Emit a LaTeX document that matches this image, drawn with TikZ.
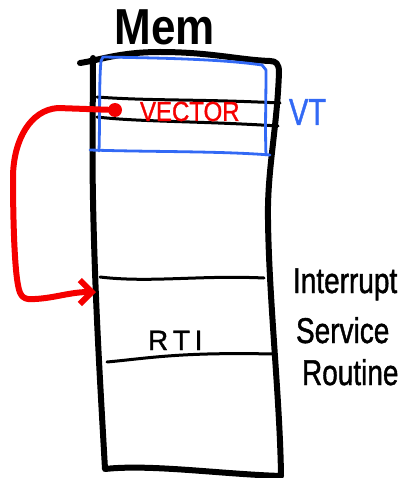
\documentclass[tikz,border=0pt]{standalone}
\usepackage{fontspec}
\setmainfont{Liberation Sans}
\newfontfamily\handfont[FakeBold=1.3]{Liberation Sans}
\usepackage{graphicx}
\usetikzlibrary{arrows.meta}
\definecolor{inkred}{RGB}{245,0,0}
\definecolor{inkblue}{RGB}{50,105,245}
\tikzset{
  memwall/.style={line width=6pt, line cap=round, line join=round},
  slotline/.style={line width=3pt, line cap=round},
  vtframe/.style={draw=inkblue, line width=2.8pt, line cap=round, line join=round},
  redlink/.style={draw=inkred, line width=6pt, line cap=round, line join=round},
  hand/.style={inner sep=0pt, outer sep=0pt},
}
\newcommand{\talltext}[1]{\scalebox{1}[1.28]{#1}}
\begin{document}
\begin{tikzpicture}[x=1pt,y=-1pt]
\useasboundingbox (0,0) rectangle (401,478);

% memory column
\draw[memwall] (93,58) .. controls (93,90) and (92,150) .. (93,200)
  .. controls (95,300) and (100,380) .. (105,469)
  .. controls (150,464) and (220,474) .. (281,476)
  .. controls (280,400) and (269,300) .. (268,220)
  .. controls (267,170) and (277,130) .. (279,72)
  .. controls (279,64) and (276,61) .. (270,61)
  .. controls (240,60) and (210,52) .. (160,52)
  .. controls (120,52) and (100,60) .. (80,63);

% slot holding the vector
\draw[slotline] (97,97) .. controls (150,101) and (200,99) .. (280,103);
\draw[slotline] (97,117) .. controls (140,122) and (200,121) .. (278,126);

% vector table frame
\draw[vtframe] (99,151) .. controls (100,120) and (99,80) .. (101,61)
  -- (103,57) .. controls (160,58) and (220,59) .. (262,65)
  -- (266,70) .. controls (266,100) and (265,130) .. (266,155);
\draw[vtframe] (90,150) .. controls (150,152) and (220,151) .. (270,155);

% service routine boundaries
\draw[slotline] (100,277) .. controls (150,283) and (200,275) .. (264,278);
\draw[slotline] (107,362) .. controls (150,358) and (180,352) .. (273,354);

% labels
\node[hand, anchor=base, font=\bfseries\fontsize{44}{44}\selectfont] (memlabel) at (165,45) {\scalebox{1}[1.15]{Mem}};
\node[hand, anchor=base west, text=inkred, font=\handfont\fontsize{24}{24}\selectfont] (vector) at (140,121) {\scalebox{1}[1.15]{VECTOR}};
\node[hand, anchor=base west, text=inkblue, font=\handfont\fontsize{29}{29}\selectfont] (vt) at (289,125) {\scalebox{1}[1.3]{VT}};
\node[hand, anchor=base west, font=\handfont\fontsize{28}{28}\selectfont] (rti) at (148,350) {R\,T\,I};
\node[hand, anchor=base west, font=\handfont\fontsize{28}{28}\selectfont] (isr1) at (293,293) {\talltext{Interrupt}};
\node[hand, anchor=base west, font=\handfont\fontsize{28}{28}\selectfont] (isr2) at (296,343) {\talltext{Service}};
\node[hand, anchor=base west, font=\handfont\fontsize{28}{28}\selectfont] (isr3) at (302,385) {\talltext{Routine}};

% vector pointing at the routine
\node[circle, fill=inkred, inner sep=0pt, minimum size=14pt] (vecdot) at (115,110) {};
\coordinate (isrentry) at (96,292);
\draw[redlink, -{Straight Barb[length=12pt,width=24pt]}] (vecdot)
  -- (58,108) .. controls (30,110) and (14,140) .. (13,175)
  .. controls (13,230) and (15,270) .. (18,285)
  .. controls (20,298) and (25,300) .. (35,299)
  .. controls (55,298) and (70,292) .. (isrentry);
\end{tikzpicture}
\end{document}
